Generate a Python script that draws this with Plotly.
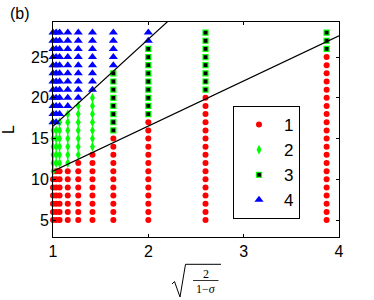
import plotly.graph_objects as go

# ---- data ----
x_cols = [1.0, 1.033, 1.069, 1.155, 1.265, 1.414, 1.633, 2.0, 2.6, 3.87]
L_values = list(range(5, 29))  # 5 .. 28
# class code for L = 5..28 in each column (1 = red, 2 = green, 3 = square, 4 = blue)
col_classes = [
    "111111" "222222" "444444444444",
    "1111111" "22222" "444444444444",
    "1111111" "222222" "44444444444",
    "1111111" "2222222" "4444444444",
    "11111111" "2222222" "444444444",
    "111111111" "2222222" "44444444",
    "11111111111" "33333333" "44444",
    "1111111111111" "333333333" "44",
    "1111111111111111" "33333333",
    "111111111111111111111" "333",
]
lower_line_x = [1.0, 4.0]
lower_line_y = [11.0, 27.6]
upper_line_x = [1.0, 2.3]
upper_line_y = [16.5, 30.4]
x_ticks = [1, 2, 3, 4]
y_ticks = [5, 10, 15, 20, 25]
class_names = ["1", "2", "3", "4"]

# ---- layout geometry (screen pixels) ----
W, H = 374, 300
ML, MR, MT, MB = 53, 35, 22, 63
PW, PH = W - ML - MR, H - MT - MB


def px(x):
    return (x - ML) / PW


def py(y):
    return (H - MB - y) / PH


styles = {
    "1": dict(symbol="circle", size=6, color="#ff0000", line=dict(width=0)),
    "2": dict(symbol="diamond-tall", size=7, color="#00ff00", line=dict(width=0)),
    "3": dict(symbol="square", size=5, color="#000000", line=dict(width=1.2, color="#00ff00")),
    "4": dict(symbol="triangle-up", size=8, color="#0000ff", line=dict(width=0)),
}

fig = go.Figure()
for c in class_names:
    xs, ys = [], []
    for xv, codes in zip(x_cols, col_classes):
        for Lv, code in zip(L_values, codes):
            if code == c:
                xs.append(xv)
                ys.append(Lv)
    fig.add_trace(go.Scatter(x=xs, y=ys, mode="markers", name=c, marker=styles[c],
                             cliponaxis=False))

for lx, ly in [(lower_line_x, lower_line_y), (upper_line_x, upper_line_y)]:
    fig.add_trace(go.Scatter(x=lx, y=ly, mode="lines", line=dict(color="black", width=1.2),
                             showlegend=False, hoverinfo="skip"))

font = dict(family="Liberation Sans, Arial, sans-serif", size=16, color="black")

axis_common = dict(showline=True, linecolor="black", linewidth=1, mirror="ticks",
                   ticks="inside", ticklen=3, tickcolor="black", showgrid=False,
                   zeroline=False, tickfont=font)

fig.update_layout(
    width=W, height=H,
    margin=dict(l=ML, r=MR, t=MT, b=MB, autoexpand=False),
    paper_bgcolor="white", plot_bgcolor="white",
    font=font,
    xaxis=dict(range=[1, 4], tickvals=x_ticks, ticktext=[str(t) for t in x_ticks], **axis_common),
    yaxis=dict(range=[2.92, 29.3], tickvals=y_ticks, ticktext=[str(t) for t in y_ticks], **axis_common),
    legend=dict(x=px(233), y=py(106), xanchor="left", yanchor="top",
                bgcolor="white", bordercolor="black", borderwidth=1,
                font=dict(family="Liberation Sans, Arial, sans-serif", size=17, color="black"),
                itemwidth=40, tracegroupgap=0),
    showlegend=True,
)

# y-axis label (rotated, as in the reference)
fig.add_annotation(text="L", x=px(8), y=py(130), xref="paper", yref="paper",
                   xanchor="center", yanchor="middle", showarrow=False, textangle=-90, font=font)

# panel label
fig.add_annotation(text="(b)", x=px(8), y=py(14), xref="paper", yref="paper",
                   xanchor="left", yanchor="middle", showarrow=False, font=font)

# x-axis label: sqrt(2/(1-sigma)) drawn with a radical path and a fraction
pts = [(172, 284), (174.5, 281.5), (180, 297), (185.5, 264.3), (221, 264.3)]
path = "M " + " L ".join(f"{px(a):.4f},{py(b):.4f}" for a, b in pts)
fig.add_shape(type="path", path=path, xref="paper", yref="paper",
              line=dict(color="black", width=1))
fig.add_shape(type="line", x0=px(193), x1=px(218.5), y0=py(280.5), y1=py(280.5),
              xref="paper", yref="paper", line=dict(color="black", width=0.8))
serif = dict(family="Liberation Serif, DejaVu Serif, serif", size=12, color="black")
fig.add_annotation(text="2", x=px(205.5), y=py(273.5), xref="paper", yref="paper",
                   showarrow=False, font=serif, xanchor="center", yanchor="middle")
fig.add_annotation(text="1\u2212<i>\u03c3</i>", x=px(205.5), y=py(288.5), xref="paper", yref="paper",
                   showarrow=False, font=serif, xanchor="center", yanchor="middle")

fig.write_html(
    "out.html",
    config={"displayModeBar": False},
    post_script="document.body.style.margin='0';document.body.style.overflow='hidden';",
)
